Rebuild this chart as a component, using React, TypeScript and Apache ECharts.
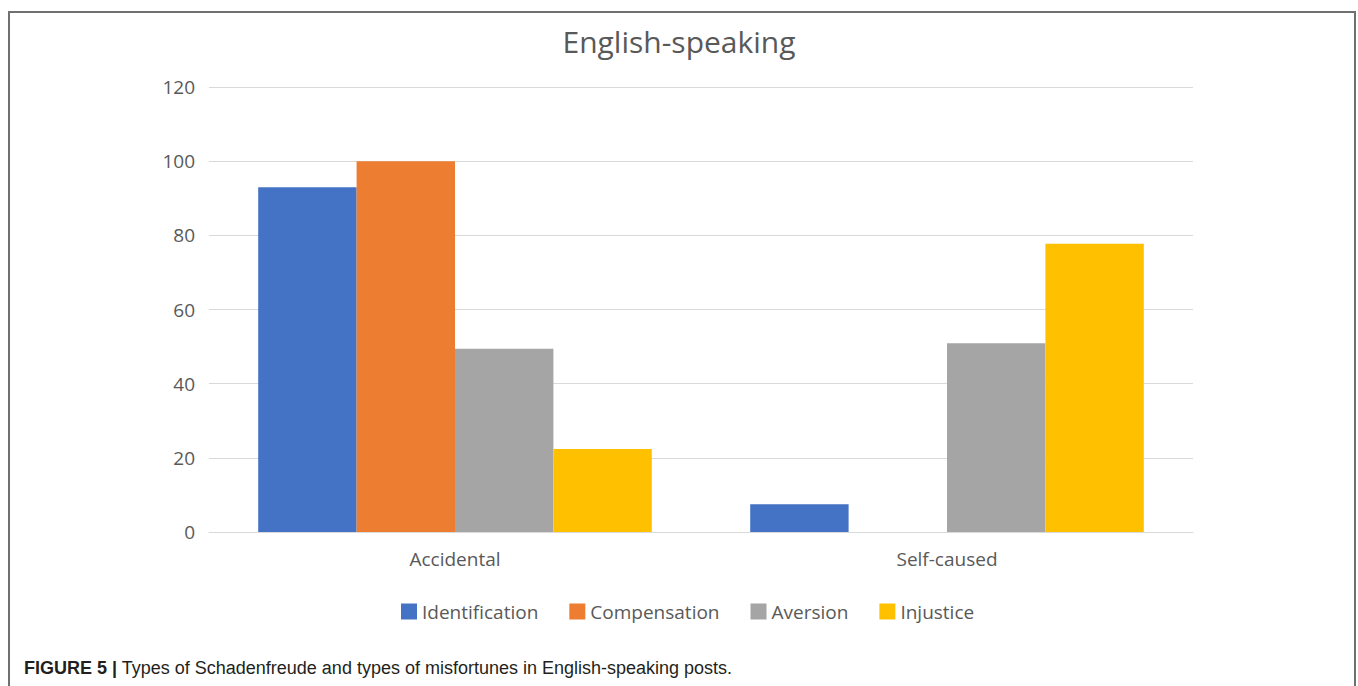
import React, { useEffect, useRef } from "react";
import * as echarts from "echarts";

const categories = ["Accidental", "Self-caused"];
const seriesNames = ["Identification", "Compensation", "Aversion", "Injustice"];
const identification = [93, 7.5];
const compensation = [100, 0];
const aversion = [49.4, 50.9];
const injustice = [22.4, 77.7];
const colors = ["#4472C4", "#ED7D31", "#A5A5A5", "#FFC000"];
const yTicks = { min: 0, max: 120, interval: 20 };
const titleText = "English-speaking";
const captionBold = "FIGURE 5 |";
const captionText = " Types of Schadenfreude and types of misfortunes in English-speaking posts.";

export default function App() {
  const ref = useRef<HTMLDivElement>(null);
  useEffect(() => {
    if (!ref.current) return;
    const chart = echarts.init(ref.current, null, { renderer: "svg" });
    const values = [identification, compensation, aversion, injustice];
    const font = "'Open Sans', 'Noto Sans', sans-serif";
    chart.setOption({
      animation: false,
      backgroundColor: "#ffffff",
      title: {
        text: titleText,
        left: "center",
        top: 21,
        textStyle: { fontFamily: font, fontSize: 30, fontWeight: "normal", color: "#595959" },
      },
      legend: {
        data: seriesNames,
        left: 396,
        top: 597,
        itemWidth: 16,
        itemHeight: 16,
        itemGap: 31,
        icon: "rect",
        textStyle: { fontFamily: font, fontSize: 19, color: "#595959" },
      },
      grid: { left: 209, right: 165, top: 87, bottom: 154, containLabel: false },
      xAxis: {
        type: "category",
        data: categories,
        axisLine: { lineStyle: { color: "#d9d9d9", width: 1 } },
        axisTick: { show: false },
        axisLabel: { fontFamily: font, fontSize: 19, color: "#595959", margin: 17 },
      },
      yAxis: {
        type: "value",
        min: yTicks.min,
        max: yTicks.max,
        interval: yTicks.interval,
        axisLine: { show: false },
        axisTick: { show: false },
        splitLine: { lineStyle: { color: "#d9d9d9", width: 1 } },
        axisLabel: { fontFamily: font, fontSize: 19, color: "#595959", margin: 14 },
      },
      series: seriesNames.map((name, i) => ({
        name,
        type: "bar",
        data: values[i],
        barGap: "0%",
        barCategoryGap: "20%",
        itemStyle: { color: colors[i] },
      })),
      graphic: [
        {
          type: "rect",
          shape: { x: 9, y: 12, width: 1346, height: 700 },
          style: { fill: "none", stroke: "#707070", lineWidth: 2 },
          silent: true,
        },
        {
          type: "text",
          left: 24,
          top: 659,
          style: {
            text: "{b|" + captionBold + "}{r|" + captionText + "}",
            rich: {
              b: { fontFamily: "'Liberation Sans', Arial, sans-serif", fontSize: 18, fontWeight: "bold", fill: "#231f20" },
              r: { fontFamily: "'Liberation Sans', Arial, sans-serif", fontSize: 18, fill: "#231f20" },
            },
          },
        },
      ],
    });
    return () => chart.dispose();
  }, []);
  return (
    <div
      ref={ref}
      style={{ position: "absolute", left: 0, top: 0, width: 1358, height: 686 }}
    />
  );
}
